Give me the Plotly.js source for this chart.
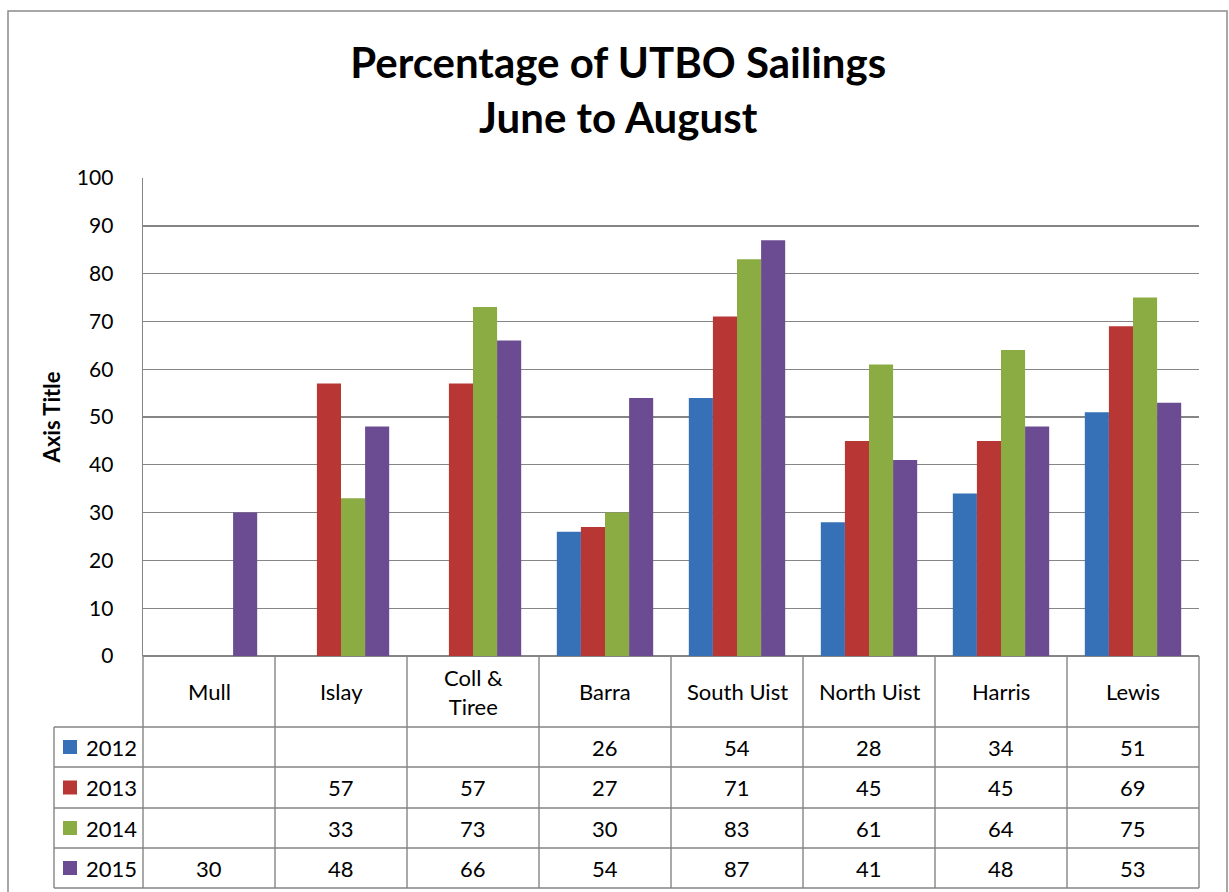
<!DOCTYPE html>
<html>
<head>
<meta charset="utf-8">
<script src="https://cdn.plot.ly/plotly-3.0.1.min.js"></script>
<style>html,body{margin:0;padding:0;background:#fff;}#chart{width:1229px;height:892px;}</style>
</head>
<body>
<div id="chart"></div>
<script>
// ---- DATA ----
const categories = ["Mull", "Islay", "Coll &<br>Tiree", "Barra", "South Uist", "North Uist", "Harris", "Lewis"];
const seriesNames = ["2012", "2013", "2014", "2015"];
const v2012 = [null, null, null, 26, 54, 28, 34, 51];
const v2013 = [null, 57, 57, 27, 71, 45, 45, 69];
const v2014 = [null, 33, 73, 30, 83, 61, 64, 75];
const v2015 = [30, 48, 66, 54, 87, 41, 48, 53];
const yTicks = [0, 10, 20, 30, 40, 50, 60, 70, 80, 90, 100];

// ---- STYLE ----
const colors = ["#3670b6", "#b83634", "#8aac42", "#6b4c93"];
const allSeries = [v2012, v2013, v2014, v2015];
const FONT = "Lato, 'Open Sans', sans-serif";
const W = 1229, H = 892;
const L = 143, R = 1199, T = 178, B = 656;
const pw = R - L, ph = B - T;
const px2x = px => (px - L) / pw;
const py2y = py => (B - py) / ph;

const traces = allSeries.map((vals, i) => ({
  type: "bar",
  name: seriesNames[i],
  x: categories,
  y: vals,
  marker: {color: colors[i], line: {width: 0}},
  hoverinfo: "x+y+name"
}));

const gridColor = "#858585";
const shapes = [];
const annotations = [];
const TFS = 22;

// Outer chart border
shapes.push({type: "rect", xref: "paper", yref: "paper",
  x0: px2x(8), x1: px2x(1227), y0: py2y(910), y1: py2y(11),
  line: {color: "#8a8a8a", width: 1.5}, fillcolor: "rgba(0,0,0,0)", layer: "below"});

// Table geometry
const rowEdges = [656, 727, 767, 808, 848, 888];
const legLeft = 54;
const colW = pw / categories.length;

for (let r = 1; r < rowEdges.length; r++) {
  shapes.push({type: "line", xref: "paper", yref: "paper",
    x0: px2x(legLeft), x1: px2x(R), y0: py2y(rowEdges[r]), y1: py2y(rowEdges[r]),
    line: {color: gridColor, width: 1.4}});
}
shapes.push({type: "line", xref: "paper", yref: "paper",
  x0: px2x(legLeft), x1: px2x(legLeft), y0: py2y(727), y1: py2y(888),
  line: {color: gridColor, width: 1.4}});
for (let c = 0; c <= categories.length; c++) {
  const xp = L + c * colW;
  shapes.push({type: "line", xref: "paper", yref: "paper",
    x0: px2x(xp), x1: px2x(xp), y0: py2y(656), y1: py2y(888),
    line: {color: gridColor, width: 1.4}});
}
categories.forEach((cat, c) => {
  annotations.push({xref: "paper", yref: "paper",
    x: px2x(L + (c + 0.5) * colW), y: py2y((656 + 727) / 2),
    text: cat, showarrow: false, font: {family: FONT, size: TFS, color: "#000"},
    xanchor: "center", yanchor: "middle"});
});
allSeries.forEach((vals, r) => {
  const yc = (rowEdges[r + 1] + rowEdges[r + 2]) / 2;
  shapes.push({type: "rect", xref: "paper", yref: "paper",
    x0: px2x(63), x1: px2x(77), y0: py2y(yc + 7), y1: py2y(yc - 7),
    fillcolor: colors[r], line: {width: 0}});
  annotations.push({xref: "paper", yref: "paper",
    x: px2x(84), y: py2y(yc), text: seriesNames[r], showarrow: false,
    font: {family: FONT, size: TFS, color: "#000"}, xanchor: "left", yanchor: "middle"});
  vals.forEach((v, c) => {
    if (v === null) return;
    annotations.push({xref: "paper", yref: "paper",
      x: px2x(L + (c + 0.5) * colW), y: py2y(yc), text: String(v), showarrow: false,
      font: {family: FONT, size: TFS, color: "#000"}, xanchor: "center", yanchor: "middle"});
  });
});

const layout = {
  width: W, height: H,
  margin: {l: L, r: W - R, t: T, b: H - B, pad: 0},
  paper_bgcolor: "#fff", plot_bgcolor: "#fff",
  showlegend: false,
  barmode: "group",
  bargap: 0.27,
  bargroupgap: 0,
  title: {
    text: "<b>Percentage of UTBO Sailings<br>June to August</b>",
    font: {family: FONT, size: 42, color: "#000"},
    x: 0.503, xanchor: "center", xref: "container",
    y: 1 - 78 / H, yanchor: "middle", yref: "container"
  },
  xaxis: {
    showticklabels: false, ticks: "", showgrid: false, zeroline: false,
    showline: false, fixedrange: true
  },
  yaxis: {
    range: [0, 100], tickvals: yTicks, ticktext: yTicks.map(String),
    tickfont: {family: FONT, size: 21, color: "#000"},
    showgrid: true, gridcolor: gridColor, gridwidth: 1.4,
    zeroline: true, zerolinecolor: gridColor, zerolinewidth: 1.4,
    showline: true, linecolor: gridColor, linewidth: 1.4,
    ticks: "", ticklabelstandoff: 24,
    title: {text: "<b>Axis Title</b>", font: {family: FONT, size: 22, color: "#000"}, standoff: 10},
    fixedrange: true
  },
  shapes: shapes,
  annotations: annotations
};

Plotly.newPlot("chart", traces, layout, {displayModeBar: false, staticPlot: true});
</script>
</body>
</html>
